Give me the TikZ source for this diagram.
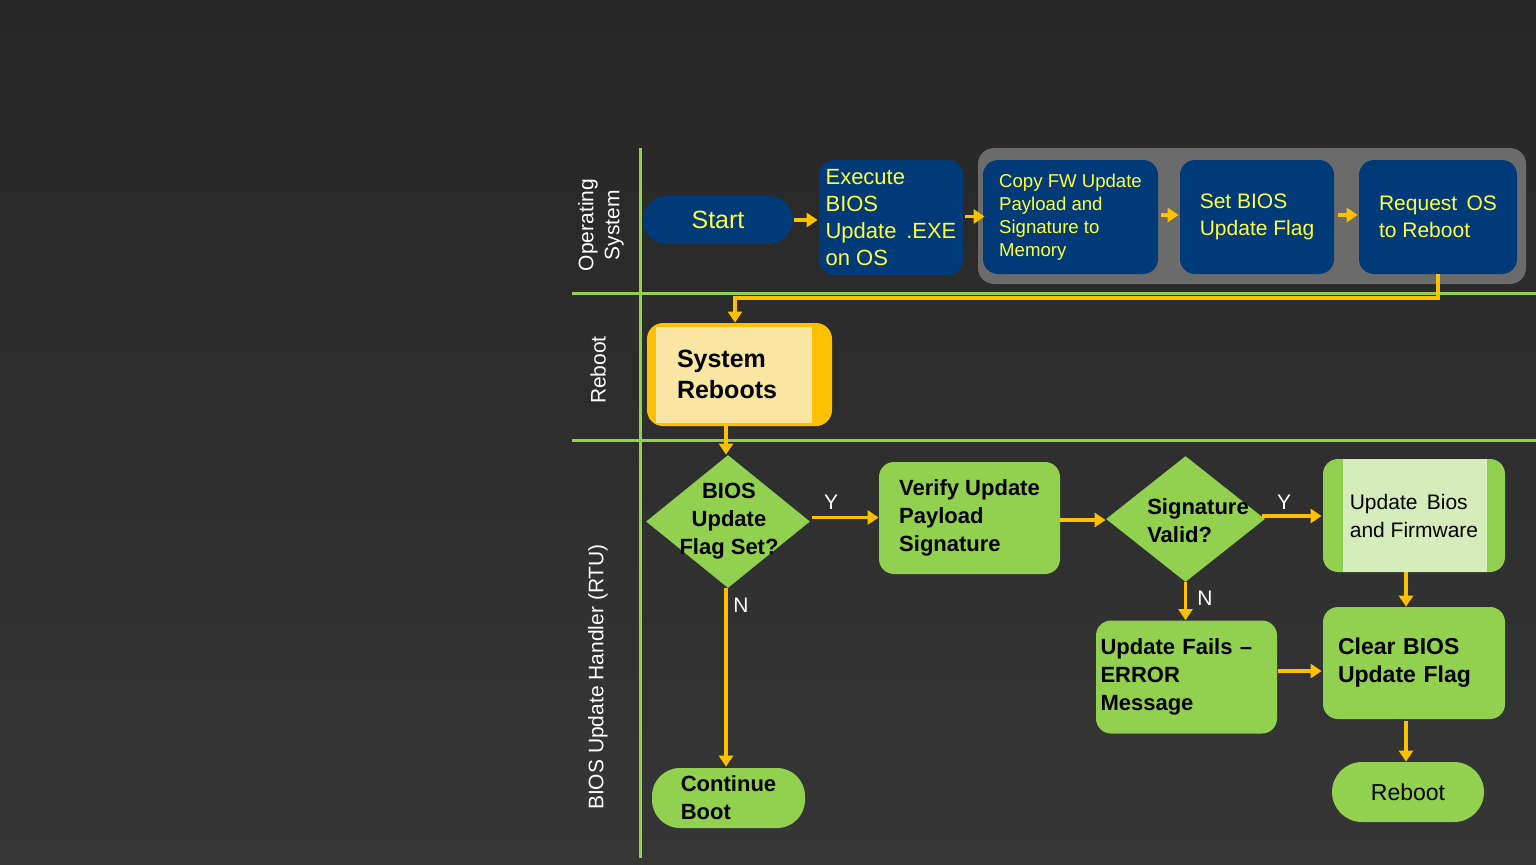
\documentclass[tikz,border=0pt]{standalone}
\usepackage{fontspec}
\setmainfont{Liberation Sans}
\usetikzlibrary{shapes.geometric,arrows.meta,calc}
\definecolor{bgtop}{HTML}{262626}
\definecolor{bgbot}{HTML}{363636}
\definecolor{osblue}{HTML}{003A78}
\definecolor{txtyel}{HTML}{FFFF40}
\definecolor{arrorange}{HTML}{FFC000}
\definecolor{lanegreen}{HTML}{92D050}
\definecolor{boxgreen}{HTML}{92D050}
\definecolor{palegreen}{HTML}{D4EDBA}
\definecolor{paleyel}{HTML}{F9E6A2}
\definecolor{groupgray}{HTML}{6B6B6B}
\tikzset{
  bluebox/.style={draw=none,fill=osblue,rounded corners=7.5pt,text=txtyel,align=left,inner sep=0pt},
  greenbox/.style={draw=none,fill=boxgreen,rounded corners=7.5pt,text=black,align=left,inner sep=0pt},
  decision/.style={diamond,draw=none,fill=boxgreen,inner sep=0pt,aspect=1},
  arr/.style={draw=arrorange,line width=1.6pt,-{Triangle[width=7pt,length=5.5pt]}},
  lane/.style={draw=lanegreen,line width=1.5pt},
  lanelabel/.style={rotate=90,text=white,align=center,font=\fontsize{10.5}{13}\selectfont},
  yn/.style={text=white,font=\fontsize{10.5}{12}\selectfont,inner sep=0pt}
}
\begin{document}
\begin{tikzpicture}[x=0.5pt,y=-0.5pt]
\useasboundingbox (0,0) rectangle (1536,864);
\shade[top color=bgtop,bottom color=bgbot] (0,0) rectangle (1536,864);

% swimlane lines
\coordinate (vt) at (640,148);
\coordinate (vb) at (640,858);
\coordinate (h1l) at (572,293);
\coordinate (h1r) at (1536,293);
\coordinate (h2l) at (572,440);
\coordinate (h2r) at (1536,440);
\draw[lane] (vt) -- (vb);
\draw[lane] (h1l) -- (h1r);
\draw[lane] (h2l) -- (h2r);

% lane labels
\node[lanelabel] (lOS) at (601,225) {Operating\\System};
\node[lanelabel] (lRB) at (598,370) {Reboot};
\node[lanelabel] (lBU) at (598,677) {BIOS Update Handler (RTU)};

% gray group
\node[draw=none,fill=groupgray,rounded corners=8pt,minimum width=274pt,minimum height=68pt,inner sep=0pt] (grp) at (1252,216) {};

% OS lane nodes
\node[bluebox,rounded corners=12pt,minimum width=75pt,minimum height=24pt,font=\fontsize{12.5}{15}\selectfont,align=center] (start) at (718,220) {Start};
\node[bluebox,minimum width=72pt,minimum height=57.5pt,font=\fontsize{11}{13.5}\selectfont] (exe) at (891,217.5) {Execute\\BIOS\\Update \,.EXE\\on OS};
\node[bluebox,minimum width=87.5pt,minimum height=57pt,font=\fontsize{9.3}{11.5}\selectfont] (copy) at (1070.5,217) {Copy FW Update\\Payload and\\Signature to\\Memory};
\node[bluebox,minimum width=77pt,minimum height=57pt,font=\fontsize{10.5}{13.5}\selectfont] (setf) at (1257,217) {Set BIOS\\Update Flag};
\node[bluebox,minimum width=79pt,minimum height=57pt,font=\fontsize{10.5}{13.5}\selectfont] (req) at (1438,217) {Request \,OS\\to Reboot};

% Reboot lane
\node[draw=none,fill=arrorange,rounded corners=8pt,minimum width=92.5pt,minimum height=51.5pt,inner sep=0pt,
  text width=62.5pt,align=left,font=\bfseries\fontsize{12.5}{15.5}\selectfont,
  path picture={\fill[paleyel,sharp corners] ($(path picture bounding box.north west)+(9,4)$) rectangle ($(path picture bounding box.south east)+(-20,-3)$);}] (sys) at (739.5,374.5) {System\\Reboots};

% BIOS lane
\node[decision,minimum width=82pt,minimum height=66.5pt] (d1) at (728,521.5) {};
\node[align=center,inner sep=0pt,font=\bfseries\fontsize{11}{14}\selectfont] (d1t) at (729,521) {BIOS\\Update\\Flag Set?};

\node[greenbox,minimum width=90.5pt,minimum height=56pt,font=\bfseries\fontsize{11}{14}\selectfont] (ver) at (969.5,518) {Verify Update\\Payload\\Signature};

\node[decision,minimum width=79.5pt,minimum height=63pt] (d2) at (1185.5,519) {};
\node[align=left,inner sep=0pt,font=\bfseries\fontsize{11}{14}\selectfont] (d2t) at (1198,521) {Signature\\Valid?};

\node[greenbox,minimum width=91pt,minimum height=56.5pt,font=\fontsize{10.5}{14}\selectfont,
  path picture={\fill[palegreen,sharp corners] ($(path picture bounding box.north west)+(20,0)$) rectangle ($(path picture bounding box.south east)+(-18,0)$);}] (ub) at (1414,515.5) {Update \,Bios\\and Firmware};

\node[greenbox,minimum width=91pt,minimum height=56pt,text width=76pt,font=\bfseries\fontsize{11.5}{14}\selectfont] (clr) at (1414,663) {Clear BIOS\\Update Flag};

\node[greenbox,minimum width=90.5pt,minimum height=56.5pt,text width=86pt,font=\bfseries\fontsize{11}{14}\selectfont] (fail) at (1186.5,677) {Update Fails --\\ERROR\\Message};

\node[greenbox,rounded corners=15pt,minimum width=76pt,minimum height=30pt,align=center,font=\fontsize{11.5}{14}\selectfont] (rb) at (1408,792) {Reboot};

\node[greenbox,rounded corners=14pt,minimum width=76.5pt,minimum height=30pt,font=\bfseries\fontsize{11}{14}\selectfont] (cont) at (728.5,798) {Continue\\Boot};

% connectors
\draw[arr] (start.east) ++(1,0) -- ($(start.east -| exe.west)+(-1,0)$);
\draw[arr] ([yshift=0.5pt]exe.east) ++(2,0) -- ($([yshift=0.5pt]exe.east -| copy.west)+(2,0)$);
\draw[arr] ([yshift=1pt]copy.east) ++(3,0) -- ($([yshift=1pt]copy.east -| setf.west)+(-1,0)$);
\draw[arr] ([yshift=1pt]setf.east) ++(4,0) -- ($([yshift=1pt]setf.east -| req.west)+(-1,0)$);
\coordinate (bendR) at (1438,298);
\coordinate (bendL) at (735,298);
\draw[arr] (req.south) -- (bendR) -- (bendL) -- (bendL |- sys.north);
\draw[arr] (d1.north |- sys.south) ++(-2,0) -- ($(d1.north)+(-2,0)$);
\draw[arr] ([yshift=2pt]d1.east) ++(2,0) -- ($([yshift=2pt]d1.east -| ver.west)+(0,0)$);
\node[yn] (y1) at (831,502) {Y};
\draw[arr] (d1.south) ++(-2,0) -- ($(d1.south |- cont.north)+(-2,-1)$);
\node[yn] (n1) at (741,605) {N};
\draw[arr] ([yshift=-1pt]ver.east) -- ($([yshift=-1pt]ver.east -| d2.west)$);
\draw[arr] ([yshift=1.5pt]d2.east) ++(-3,0) -- ($([yshift=1.5pt]d2.east -| ub.west)+(-1,0)$);
\node[yn] (y2) at (1284,502) {Y};
\draw[arr] (d2.south) -- (d2.south |- fail.north);
\node[yn] (n2) at (1205,598) {N};
\draw[arr] ([yshift=3pt]fail.east) ++(1,0) -- ($([yshift=3pt]fail.east -| clr.west)+(-1,0)$);
\draw[arr] ([xshift=-4pt]ub.south) -- ([xshift=-4pt]clr.north);
\draw[arr] ([xshift=-4pt]clr.south) ++(0,2) -- ($(rb.north)+(-2,0)$);
\end{tikzpicture}
\end{document}
